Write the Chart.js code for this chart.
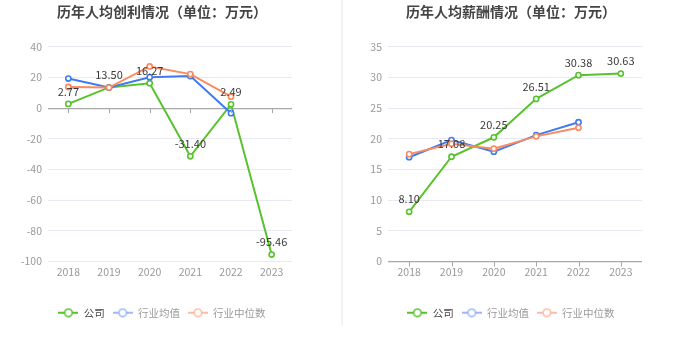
<!DOCTYPE html>
<html>
<head>
<meta charset="utf-8">
<script src="https://cdn.jsdelivr.net/npm/chart.js@4.4.1/dist/chart.umd.min.js"></script>
<style>
  html, body { margin: 0; padding: 0; background: #fff; }
  #wrap { position: relative; width: 680px; height: 349px; overflow: hidden; }
  #left { position: absolute; left: 0; top: 0; width: 324px; height: 349px; }
  #right { position: absolute; left: 342px; top: 0; width: 338px; height: 349px; }
  #divider { position: absolute; left: 341px; top: 0; width: 2px; height: 325px; background: #f3f3f3; }
</style>
</head>
<body>
<div id="wrap">
  <div id="left"><canvas id="profitChart" width="324" height="349"></canvas></div>
  <div id="divider"></div>
  <div id="right"><canvas id="salaryChart" width="338" height="349"></canvas></div>
</div>
<script>
// Years on the category axis
const years = ['2018', '2019', '2020', '2021', '2022', '2023'];

// Per-capita profit (万元)
const profitCompany = [2.77, 13.50, 16.27, -31.40, 2.49, -95.46];
const profitIndustryAvg = [19.3, 13.4, 20.2, 20.9, -3.3, null];
const profitIndustryMedian = [13.8, 13.4, 27.2, 22.2, 7.5, null];

// Per-capita salary (万元)
const salaryCompany = [8.10, 17.08, 20.25, 26.51, 30.38, 30.63];
const salaryIndustryAvg = [17.0, 19.8, 17.9, 20.6, 22.7, null];
const salaryIndustryMedian = [17.5, 19.2, 18.4, 20.4, 21.8, null];

// Value-axis ticks
const profitTicks = [-100, -80, -60, -40, -20, 0, 20, 40];
const salaryTicks = [0, 5, 10, 15, 20, 25, 30, 35];

const seriesNames = ['公司', '行业均值', '行业中位数'];
const COLORS = ['#57c22d', '#3f7bf0', '#fa8a5f'];
const LEGEND_COLORS = ['#57c22d', '#9bb9f6', '#fcbca4'];
const LEGEND_TEXT = ['#444444', '#9a9a9a', '#9a9a9a'];

const FONT = "'Noto Sans CJK SC', 'Noto Sans', sans-serif";
const GRID = '#e6e9f1';
const AXIS = '#a8a8a8';

Chart.defaults.font.family = FONT;
Chart.defaults.animation = false;

// Legend marker: short line with a hollow circle in the middle
function legendIcon(color) {
  const c = document.createElement('canvas');
  c.width = 20; c.height = 10;
  const g = c.getContext('2d');
  g.strokeStyle = color;
  g.lineWidth = 2;
  g.beginPath(); g.moveTo(0, 5); g.lineTo(20, 5); g.stroke();
  g.fillStyle = '#fff';
  g.lineWidth = 1.6;
  g.beginPath(); g.arc(10, 5, 3.8, 0, Math.PI * 2); g.fill(); g.stroke();
  return c;
}
const ICONS = LEGEND_COLORS.map(legendIcon);

// Value labels above the company series
const valueLabels = {
  id: 'valueLabels',
  afterDatasetsDraw(chart) {
    const meta = chart.getDatasetMeta(0);
    const data = chart.data.datasets[0].data;
    const ctx = chart.ctx;
    ctx.save();
    ctx.font = '11px ' + FONT;
    ctx.fillStyle = '#3a3a3a';
    ctx.textAlign = 'center';
    ctx.textBaseline = 'middle';
    meta.data.forEach((pt, i) => {
      if (data[i] == null) return;
      ctx.fillText(data[i].toFixed(2), pt.x, pt.y - 12.5);
    });
    ctx.restore();
  }
};

// Small tick marks hanging below the zero line at each category
const zeroTicks = {
  id: 'zeroTicks',
  afterDraw(chart) {
    const xs = chart.scales.x, ys = chart.scales.y;
    const y0 = ys.getPixelForValue(0);
    const ctx = chart.ctx;
    ctx.save();
    ctx.strokeStyle = AXIS;
    ctx.lineWidth = 1;
    for (let i = 0; i < xs.ticks.length; i++) {
      const x = Math.round(xs.getPixelForTick(i)) + 0.5;
      ctx.beginPath(); ctx.moveTo(x, y0); ctx.lineTo(x, y0 + 5); ctx.stroke();
    }
    ctx.restore();
  }
};

function makeChart(id, title, series, ticks, yWidth, padRight) {
  const order = [3, 2, 1];
  const datasets = series.map((d, i) => ({
    label: seriesNames[i],
    data: d,
    borderColor: COLORS[i],
    backgroundColor: '#fff',
    borderWidth: 2,
    pointRadius: 2.6,
    pointBorderWidth: 1.6,
    pointBackgroundColor: '#fff',
    pointBorderColor: COLORS[i],
    tension: 0,
    spanGaps: false,
    order: order[i]
  }));
  return new Chart(document.getElementById(id), {
    type: 'line',
    data: { labels: years, datasets },
    options: {
      responsive: false,
      animation: false,
      events: [],
      layout: { padding: { left: 0, right: 0, top: 0, bottom: 21 } },
      plugins: {
        title: {
          display: true,
          text: title,
          color: '#454545',
          font: { size: 14, weight: 'bold', family: FONT },
          padding: { top: 3, bottom: 27 }
        },
        legend: {
          display: true,
          position: 'bottom',
          labels: {
            usePointStyle: true,
            pointStyleWidth: 20,
            padding: 8,
            font: { size: 10.5, family: FONT },
            generateLabels(chart) {
              return chart.data.datasets.map((ds, i) => ({
                text: ds.label,
                pointStyle: ICONS[i],
                fontColor: LEGEND_TEXT[i],
                strokeStyle: 'transparent',
                fillStyle: 'transparent',
                lineWidth: 0,
                datasetIndex: i,
                hidden: false
              }));
            }
          }
        },
        tooltip: { enabled: false }
      },
      scales: {
        x: {
          type: 'category',
          offset: true,
          border: { display: false },
          grid: { display: false, drawTicks: false },
          ticks: { color: '#999', font: { size: 10.5 }, padding: 4, maxRotation: 0 },
          afterFit(s) { s.height = 38; }
        },
        y: {
          min: ticks[0],
          max: ticks[ticks.length - 1],
          afterBuildTicks(s) { s.ticks = ticks.map(v => ({ value: v })); },
          border: { display: false },
          grid: {
            drawTicks: false,
            color: c => (c.tick && c.tick.value === 0 ? AXIS : GRID),
            lineWidth: c => (c.tick && c.tick.value === 0 ? 1.2 : 1)
          },
          ticks: { color: '#999', font: { size: 10.5 }, padding: 6 },
          afterFit(s) { s.width = yWidth; }
        },
        // blank right-hand gutter so the plot ends before the canvas edge
        gutter: {
          type: 'linear',
          position: 'right',
          display: true,
          border: { display: false },
          grid: { display: false, drawTicks: false },
          ticks: { display: false },
          afterFit(s) { s.width = padRight; }
        }
      }
    },
    plugins: [valueLabels, zeroTicks]
  });
}

makeChart('profitChart', '历年人均创利情况（单位：万元）',
  [profitCompany, profitIndustryAvg, profitIndustryMedian], profitTicks, 48, 32);
makeChart('salaryChart', '历年人均薪酬情况（单位：万元）',
  [salaryCompany, salaryIndustryAvg, salaryIndustryMedian], salaryTicks, 46, 38);
</script>
</body>
</html>
